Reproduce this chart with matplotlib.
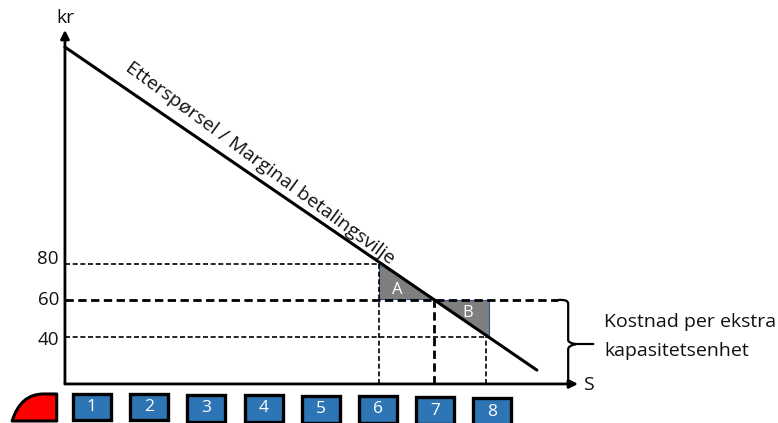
import matplotlib.pyplot as plt
from matplotlib.patches import Rectangle, Polygon, PathPatch
from matplotlib.path import Path

plt.rcParams['font.family'] = ['Open Sans', 'DejaVu Sans']

# demand line (number of cars, kr)
demand_x = [0.29, 8.87]
demand_y = [198.6, 21.6]

axis_x0 = 0.29
axis_y0 = 14
axis_x_end = 9.62
axis_y_end = 208

price_ticks = [80, 60, 40]
label_y = [82.5, 60, 38]
tick_ends = [6, 9.25, 8.0]
tick_y = [80, 60, 40]
tick_widths = [1.2, 2.0, 1.2]
drop_x = [6, 7, 7.95]
drop_top = [80, 60, 40]
drop_widths = [1.2, 2.0, 1.2]

area_a_x = [6, 6, 7.02]
area_a_y = [80, 60.5, 60.5]
area_b_x = [7.04, 8.0, 8.0]
area_b_y = [60, 60, 39.7]

# queue of cars below the axis
slots = ['1', '2', '3', '4', '5', '6', '7', '8']
slot_x = [0.78, 1.82, 2.85, 3.91, 4.95, 5.98, 7.02, 8.05]
slot_y = [1.4, 1.4, 0.6, 0.6, 0, 0, -0.6, -1.2]

fig = plt.figure(figsize=(7.78, 4.23), dpi=100)
ax = fig.add_axes([0, 0, 1, 1])
ax.set_xlim(-0.891, 13.255)
ax.set_ylim(-7.4, 224.4)
ax.axis('off')

# shaded areas first so the lines sit on top
ax.add_patch(Polygon(list(zip(area_a_x, area_a_y)), fc='#7f7f7f', ec='#2f5597', lw=0.8))
ax.add_patch(Polygon(list(zip(area_b_x, area_b_y)), fc='#7f7f7f', ec='#2f5597', lw=0.8))

# dashed guides
for p, end, w in zip(tick_y, tick_ends, tick_widths):
    ax.plot([axis_x0, end], [p, p], color='black', lw=w, ls=(0, (3, 1.6)))
for x, top, w in zip(drop_x, drop_top, drop_widths):
    ax.plot([x, x], [axis_y0, top], color='black', lw=w, ls=(0, (3, 1.6)))

ax.plot(demand_x, demand_y, color='black', lw=2.2, solid_capstyle='round')

# axes with arrow heads
arrow = dict(arrowstyle='-|>,head_width=0.25,head_length=0.5', color='black', lw=2.0,
             shrinkA=0, shrinkB=0)
ax.annotate('', xy=(axis_x0, axis_y_end), xytext=(axis_x0, axis_y0), arrowprops=arrow)
ax.annotate('', xy=(axis_x_end, axis_y0), xytext=(axis_x0, axis_y0), arrowprops=arrow)

# bracket for the cost of one extra unit
brace = Path([(9.25, 60), (9.44, 60.5), (9.44, 58), (9.44, 38), (9.44, 36.5), (9.58, 35.8),
              (9.44, 35), (9.44, 33), (9.44, 14)],
             [Path.MOVETO, Path.CURVE3, Path.CURVE3, Path.LINETO, Path.CURVE3, Path.CURVE3,
              Path.CURVE3, Path.CURVE3, Path.LINETO])
ax.add_patch(PathPatch(brace, fc='none', ec='black', lw=1.6))
ax.plot([9.55, 9.89], [35.8, 35.8], color='black', lw=1.6)

for p, y in zip(price_ticks, label_y):
    ax.text(0.18, y, str(p), ha='right', va='center', fontsize=13.5, color='#111111')
ax.text(0.29, 214.5, 'kr', ha='center', va='center', fontsize=14, color='#111111')
ax.text(9.8, 13.4, 'S', ha='center', va='center', fontsize=14, color='#111111')
ax.text(10.09, 47.9, 'Kostnad per ekstra', ha='left', va='center', fontsize=14, color='#111111')
ax.text(10.09, 32, 'kapasitetsenhet', ha='left', va='center', fontsize=14, color='#111111')
ax.text(3.84, 135, 'Etterspørsel / Marginal betalingsvilje', rotation=-36.3,
        rotation_mode='anchor', ha='center', va='center', fontsize=14, color='#111111')
ax.text(6.33, 65.5, 'A', ha='center', va='center', fontsize=12, color='white')
ax.text(7.62, 53, 'B', ha='center', va='center', fontsize=12, color='white')

# red front car
car = Path([(-0.67, -6.3), (-0.52, 8.5), (-0.1, 8.5), (-0.1, 8.5), (0.14, 8.5), (0.14, -6.3), (-0.67, -6.3)],
           [Path.MOVETO, Path.CURVE3, Path.CURVE3, Path.LINETO, Path.LINETO, Path.LINETO, Path.CLOSEPOLY])
ax.add_patch(PathPatch(car, fc='#ff0000', ec='black', lw=2.2, joinstyle='round'))

box_w = 0.69
box_h = 14.6
for label, x, y in zip(slots, slot_x, slot_y):
    ax.add_patch(Rectangle((x - box_w / 2, y - box_h / 2), box_w, box_h,
                           fc='#2e75b6', ec='black', lw=2.4))
    ax.text(x, y, label, ha='center', va='center', fontsize=12.5, color='white')

fig.savefig('out.png', dpi=100)
